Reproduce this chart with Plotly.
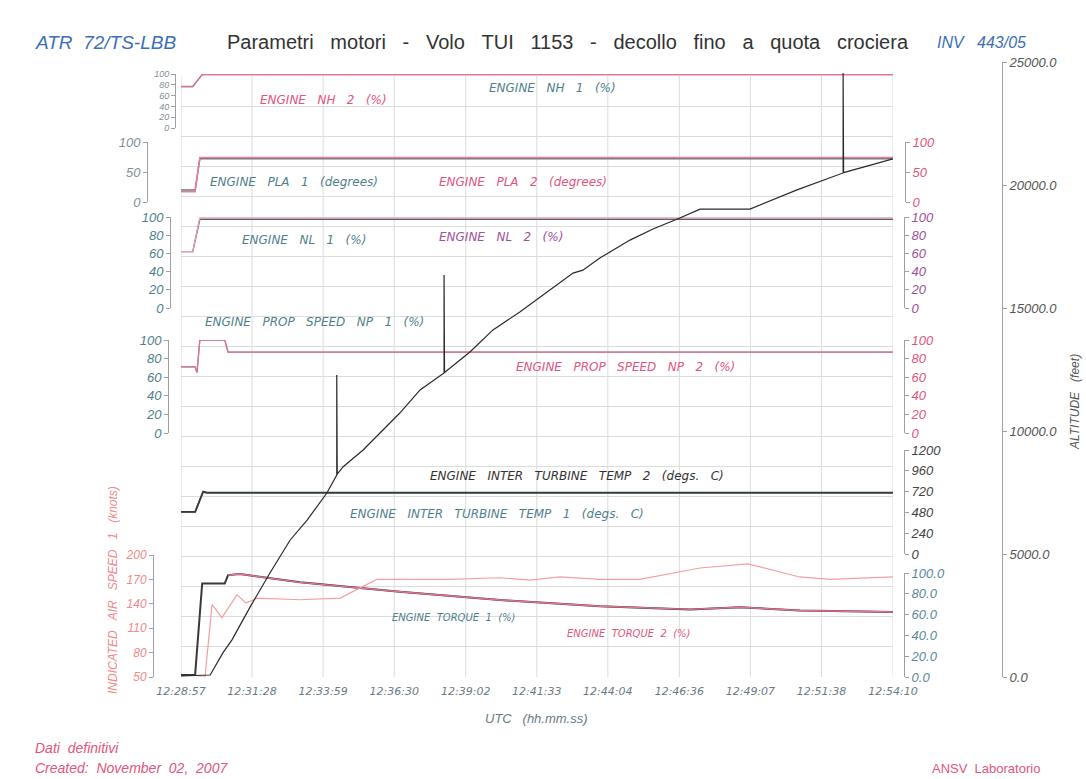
import plotly.graph_objects as go

W, H = 1086, 779

# ---------------- data ----------------
x_tick_labels = ["12:28:57", "12:31:28", "12:33:59", "12:36:30", "12:39:02", "12:41:33",
                 "12:44:04", "12:46:36", "12:49:07", "12:51:38", "12:54:10"]

nh_time = ["12:28:57", "12:29:22", "12:29:42", "12:54:10"]
nh1 = [77, 77, 99, 99]
nh2 = [76, 76, 99, 99]

pla_time = ["12:28:57", "12:29:27", "12:29:37", "12:54:10"]
pla1 = [20, 20, 72, 72]
pla2 = [17, 17, 74, 74]

nl_time = ["12:28:57", "12:29:22", "12:29:37", "12:54:10"]
nl1 = [62, 62, 97.5, 97.5]
nl2 = [62, 62, 99, 99]

np_time = ["12:28:57", "12:29:27", "12:29:31", "12:29:37", "12:30:30", "12:30:37", "12:54:10"]
np1 = [71, 71, 65, 100, 100, 87, 87]
np2 = [71, 71, 65, 100, 100, 87, 87]

itt_time = ["12:28:57", "12:29:27", "12:29:44", "12:29:52", "12:54:10"]
itt1 = [485, 485, 715, 705, 705]
itt2 = [485, 485, 720, 708, 708]

tq1_time = ["12:28:57", "12:29:27", "12:29:42", "12:30:30", "12:30:37", "12:31:02", "12:33:10",
            "12:36:42", "12:40:15", "12:43:47", "12:46:59", "12:48:45", "12:50:52", "12:54:10"]
tq1 = [2, 2, 90, 90, 98, 99, 91, 82, 74, 68, 65, 67, 64, 62.5]
tq2_time = ["12:30:37", "12:31:02", "12:33:10", "12:36:42", "12:40:15", "12:43:47", "12:46:59",
            "12:48:45", "12:50:52", "12:54:10"]
tq2 = [98, 99, 91, 82, 74, 68, 65, 67, 64, 62.5]

ias_time = ["12:29:33", "12:29:48", "12:30:03", "12:30:24", "12:30:56", "12:31:15", "12:31:39",
            "12:33:10", "12:34:35", "12:35:17", "12:35:53", "12:36:42", "12:38:29", "12:40:15",
            "12:41:19", "12:42:22", "12:43:47", "12:45:12", "12:46:16", "12:47:20", "12:49:02",
            "12:49:49", "12:50:52", "12:51:56", "12:54:10"]
ias = [50, 50, 139, 123, 151, 141, 147, 145, 147, 159, 170, 170, 170, 172, 169, 173, 170, 170,
       177, 184, 189, 182, 173, 170, 173]

alt_time = ["12:28:57", "12:29:59", "12:30:26", "12:30:45", "12:31:24", "12:32:06", "12:32:49",
            "12:33:25", "12:34:07", "12:34:28", "12:34:28", "12:34:29", "12:34:41", "12:35:24",
            "12:36:42", "12:37:25", "12:38:16", "12:38:16", "12:38:17", "12:39:11", "12:40:00",
            "12:40:57", "12:41:46", "12:42:50", "12:43:11", "12:43:47", "12:44:51", "12:45:40",
            "12:46:37", "12:47:20", "12:49:06", "12:49:55", "12:50:46", "12:52:24", "12:52:24",
            "12:52:25", "12:54:10"]
alt = [40, 80, 980, 1500, 2850, 4230, 5570, 6380, 7480, 8210, 12280, 8250, 8540, 9230, 10730,
       11670, 12360, 16340, 12380, 13210, 14110, 14840, 15530, 16420, 16540, 17030, 17760, 18210,
       18660, 19020, 19020, 19390, 19800, 20490, 24550, 20500, 21060]

pct_ticks = [0, 20, 40, 60, 80, 100]
pla_ticks = [0, 50, 100]
itt_ticks = [0, 240, 480, 720, 960, 1200]
ias_ticks = [50, 80, 110, 140, 170, 200]
alt_ticks = [0, 5000, 10000, 15000, 20000, 25000]


# ---------------- helpers ----------------
def tsec(s):
    h, m, sec = (int(v) for v in s.split(":"))
    return h * 3600 + m * 60 + sec


T0 = tsec(x_tick_labels[0])


def tx(lst):
    return [tsec(s) - T0 for s in lst]


def fy(px):
    return (H - px) / H


def fx(px):
    return px / W


def sp(s, n=2):
    return s.replace(" ", "\u00a0" * n)


tickvals = tx(x_tick_labels)
XMAX = tickvals[-1]

FONT = "Liberation Sans"
WIDE = "DejaVu Sans"
GRID = "#dcdcdc"
AXL = "#a0a0a0"
TEAL = "#4f7f8c"
PINK = "#e2557c"
PURP = "#a0509a"
GREYLAB = "#7f9097"

fig = go.Figure()


def add(times, vals, yax, color, width=1.3):
    fig.add_trace(go.Scatter(x=tx(times), y=vals, mode="lines", yaxis=yax, xaxis="x",
                             line=dict(color=color, width=width), hoverinfo="skip",
                             showlegend=False))


# base (grid) axis trace - invisible
fig.add_trace(go.Scatter(x=[0, XMAX], y=[0, 20], mode="lines", yaxis="y", xaxis="x",
                         line=dict(color="rgba(0,0,0,0)"), hoverinfo="skip", showlegend=False))

add(nh_time, nh1, "y2", "#6f96a2")
add(nh_time, nh2, "y2", "#e8708c")
add(pla_time, pla1, "y3", "#6a7a80", 1.5)
add(pla_time, pla2, "y4", "#ea7c96", 1.5)
add(nl_time, nl1, "y5", "#5a6066", 1.4)
add(nl_time, nl2, "y6", "#e7a0c0", 1.2)
add(np_time, np1, "y7", "#6f96a2")
add(np_time, np2, "y8", "#e8708c")
add(itt_time, itt1, "y9", "#4f7f8c", 1.6)
add(itt_time, itt2, "y9", "#3a3a3a", 1.8)
add(ias_time, ias, "y11", "#f4a0a0", 1.2)
add(tq1_time, tq1, "y10", "#3a3a3a", 2.0)
add(tq2_time, tq2, "y10", "#e6708e", 1.4)
add(alt_time, alt, "y12", "#2a2a2a", 1.2)


def yaxis(top_px, bot_px, rng, pos_px, side, ticks, color, fmt=None, fsize=12):
    d = dict(
        domain=[fy(bot_px), fy(top_px)], range=rng, anchor="free", position=fx(pos_px),
        side=side, tickmode="array", tickvals=ticks, showgrid=False, zeroline=False,
        showline=True, linecolor=AXL, linewidth=1, ticks="outside", ticklen=4,
        tickcolor=AXL, tickfont=dict(family=FONT, size=fsize, color=color, style="italic"),
        fixedrange=True,
    )
    if fmt:
        d["tickformat"] = fmt
    return d


layout = dict(
    width=W, height=H, margin=dict(l=0, r=0, t=0, b=0, autoexpand=False),
    paper_bgcolor="white", plot_bgcolor="rgba(0,0,0,0)",
    xaxis=dict(domain=[fx(181), fx(893)], range=[0, XMAX], anchor="y", tickmode="array",
               tickvals=tickvals, ticktext=x_tick_labels, showgrid=False, zeroline=False,
               showline=False, ticks="", ticklabelstandoff=6,
               tickfont=dict(family=WIDE, size=11, color="#6a7a85", style="italic"),
               fixedrange=True),
    yaxis=dict(domain=[fy(677), fy(76)], range=[0, 20], tickmode="linear", dtick=1,
               showgrid=True, gridcolor=GRID, gridwidth=1, zeroline=False, showline=False,
               showticklabels=False, ticks="", fixedrange=True),
    yaxis2=yaxis(74, 128, [0, 100], 175, "left", pct_ticks, GREYLAB, fsize=9),
    yaxis3=yaxis(142, 202, [0, 100], 147, "left", pla_ticks, GREYLAB, fsize=13),
    yaxis4=yaxis(142, 202, [0, 100], 905, "right", pla_ticks, PINK, fsize=13),
    yaxis5=yaxis(217, 308, [0, 100], 170, "left", pct_ticks, TEAL, fsize=13),
    yaxis6=yaxis(217, 308, [0, 100], 904, "right", pct_ticks, PURP, fsize=13),
    yaxis7=yaxis(340, 433, [0, 100], 168, "left", pct_ticks, TEAL, fsize=13),
    yaxis8=yaxis(340, 433, [0, 100], 904, "right", pct_ticks, PINK, fsize=13),
    yaxis9=yaxis(450, 554, [0, 1200], 904, "right", itt_ticks, "#444444", fsize=13),
    yaxis10=yaxis(573, 677, [0, 100], 904, "right", pct_ticks, "#5a8a9a", ".1f", fsize=13),
    yaxis11=yaxis(555, 677, [50, 200], 153, "left", ias_ticks, "#f08a8a", fsize=12),
    yaxis12=yaxis(62, 677, [0, 25000], 1002, "right", alt_ticks, "#555555", ".1f", fsize=13),
)

shapes = []
for tv in tickvals:
    shapes.append(dict(type="line", xref="x", yref="paper", x0=tv, x1=tv, y0=fy(677), y1=fy(76),
                       line=dict(color=GRID, width=1), layer="below"))
layout["shapes"] = shapes


def ann(text, xpx, ypx, color, size=11, italic=True, xanchor="left", angle=0, family=FONT):
    return dict(text=text, x=fx(xpx), y=fy(ypx), xref="paper", yref="paper", showarrow=False,
                xanchor=xanchor, yanchor="middle", textangle=angle,
                font=dict(family=family, size=size, color=color,
                          style="italic" if italic else "normal"))


def lab(text, xpx, ypx, color, size=12, n=3):
    return ann(sp(text, n), xpx, ypx, color, size, family=WIDE)


annotations = [
    ann(sp("ATR 72/TS-LBB", 2), 33, 43, "#3b6fb6", 19),
    ann(sp("Parametri motori - Volo TUI 1153 - decollo fino a quota crociera", 3), 225, 42,
        "#333333", 20, italic=False),
    ann(sp("INV 443/05", 3), 935, 43, "#3b6fb6", 16),

    lab("ENGINE NH 2 (%)", 258, 100, PINK),
    lab("ENGINE NH 1 (%)", 487, 88, TEAL),
    lab("ENGINE PLA 1 (degrees)", 208, 182, TEAL),
    lab("ENGINE PLA 2 (degrees)", 437, 182, PINK),
    lab("ENGINE NL 1 (%)", 240, 240, TEAL),
    lab("ENGINE NL 2 (%)", 437, 237, PURP),
    lab("ENGINE PROP SPEED NP 1 (%)", 203, 322, TEAL),
    lab("ENGINE PROP SPEED NP 2 (%)", 514, 367, PINK),
    lab("ENGINE INTER TURBINE TEMP 2 (degs. C)", 428, 476, "#333333"),
    lab("ENGINE INTER TURBINE TEMP 1 (degs. C)", 348, 514, TEAL),
    lab("ENGINE TORQUE 1 (%)", 390, 617, TEAL, 10, 2),
    lab("ENGINE TORQUE 2 (%)", 565, 633, PINK, 10, 2),

    ann(sp("INDICATED AIR SPEED 1 (knots)", 3), 113, 590, "#f08a8a", 12, xanchor="center",
        angle=-90),
    ann(sp("ALTITUDE (feet)", 3), 1075, 402, "#555555", 12, xanchor="center", angle=-90),

    ann(sp("UTC (hh.mm.ss)", 3), 536, 718, "#6a7a85", 13, xanchor="center"),
    ann(sp("Dati definitivi"), 33, 748, PINK, 14),
    ann(sp("Created: November 02, 2007"), 33, 768, PINK, 14),
    ann(sp("ANSV Laboratorio"), 930, 768, PINK, 13, italic=False),
]
layout["annotations"] = annotations

fig.update_layout(**layout)

fig.write_html("out.html", config={"displayModeBar": False, "staticPlot": True},
               post_script="document.body.style.margin='0';")
